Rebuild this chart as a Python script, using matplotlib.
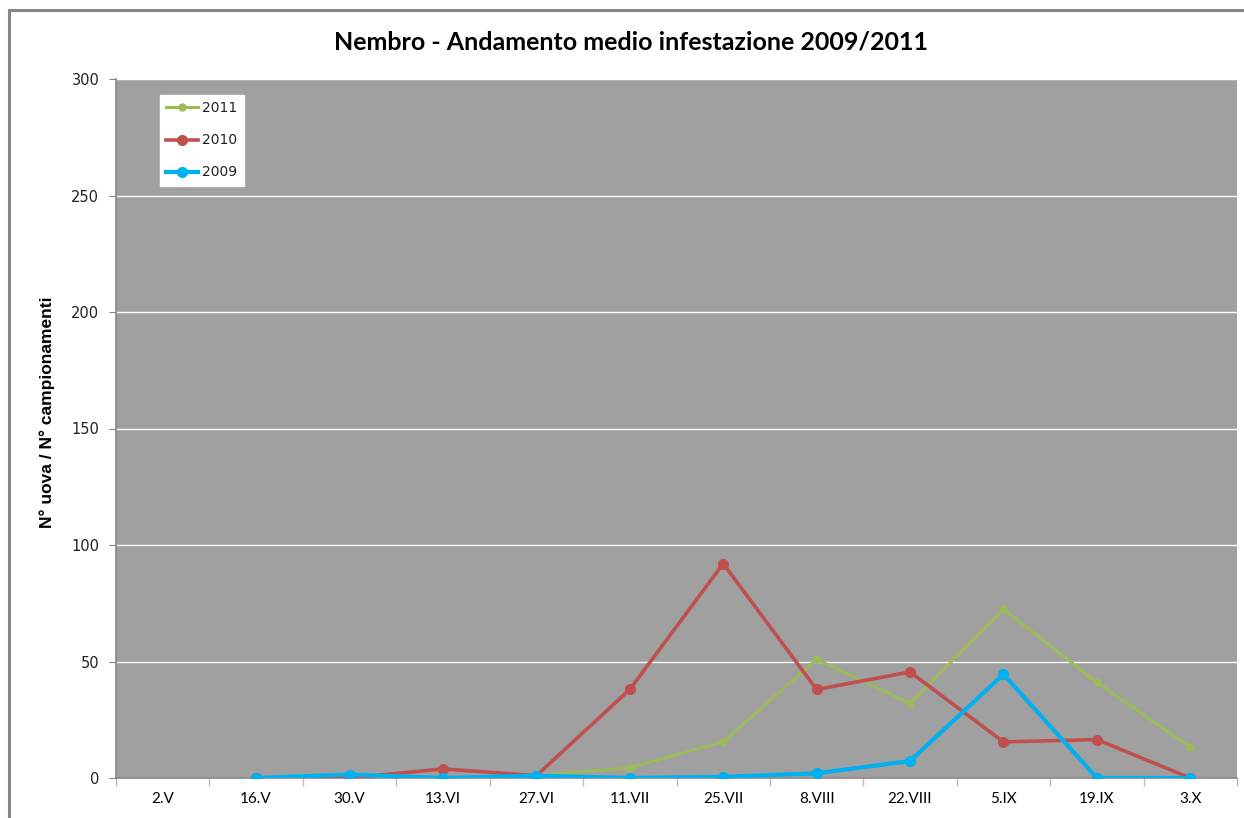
import matplotlib
matplotlib.use("Agg")
import matplotlib.pyplot as plt

# dates of sampling
dates = ["2.V", "16.V", "30.V", "13.VI", "27.VI", "11.VII", "25.VII",
         "8.VIII", "22.VIII", "5.IX", "19.IX", "3.X"]

# mean eggs per sampling (first date has no data)
y2011 = [None, 0, 0, 0, 1, 4.5, 15.5, 51, 32, 72.5, 41, 13.3]
y2010 = [None, 0, 0, 3.9, 1, 38, 92, 38, 45.5, 15.5, 16.5, 0]
y2009 = [None, 0, 1.5, 0, 1, 0, 0.5, 2, 7.3, 44.5, 0, 0]

yticks = [0, 50, 100, 150, 200, 250, 300]

W, H = 1244, 818
fig = plt.figure(figsize=(W / 100, H / 100), dpi=100)
fig.patch.set_facecolor("white")

# outer chart frame (cut at right/bottom like the reference)
fig.add_artist(plt.Line2D([9 / W, 9 / W], [0, 1 - 10 / H], color="#868686", lw=2.2,
                          transform=fig.transFigure))
fig.add_artist(plt.Line2D([9 / W, 1], [1 - 10 / H, 1 - 10 / H], color="#868686", lw=2.2,
                          transform=fig.transFigure))

ax = fig.add_axes([116 / W, 1 - 778 / H, (1237 - 116) / W, (778 - 79) / H])
ax.set_facecolor("#A0A0A0")

x = list(range(len(dates)))

def clean(vals):
    return [float("nan") if v is None else v for v in vals]

ax.plot(x, clean(y2011), color="#9BBB59", lw=2.2, marker="o", ms=5, label="2011", zorder=3)
ax.plot(x, clean(y2010), color="#C0504D", lw=2.6, marker="o", ms=7, label="2010", zorder=4)
ax.plot(x, clean(y2009), color="#00B0F0", lw=3.0, marker="o", ms=7, label="2009", zorder=5)

ax.set_xlim(-0.5, len(dates) - 0.5)
ax.set_ylim(0, 300)
ax.set_yticks(yticks)
ax.set_yticklabels([str(v) for v in yticks], fontsize=10.5, family="DejaVu Sans",
                   color="#222222")
ax.grid(axis="y", color="white", lw=1.0)
ax.set_axisbelow(True)

ax.set_xticks(x)
ax.set_xticklabels(dates, fontsize=11, family="Lato")
ax.set_xticks([i - 0.5 for i in range(len(dates) + 1)], minor=True)
ax.tick_params(axis="x", which="major", length=0, pad=10)
ax.tick_params(axis="x", which="minor", length=6, color="#BBBBBB", width=1)
ax.tick_params(axis="y", length=5, color="#868686", pad=7)

for s in ["top", "right"]:
    ax.spines[s].set_visible(False)
ax.spines["left"].set_color("#868686")
ax.spines["bottom"].set_color("#868686")
ax.spines["left"].set_linewidth(1.2)
ax.spines["bottom"].set_linewidth(1.2)

ax.set_ylabel("N° uova / N° campionamenti", fontsize=12.5, fontweight="bold",
              family="Liberation Sans", va="center")
ax.yaxis.set_label_coords(-0.0616, 0.5236)

fig.text(631 / W, 1 - 42 / H, "Nembro - Andamento medio infestazione 2009/2011",
         ha="center", va="center", fontsize=18, fontweight="bold", family="Lato")

leg = ax.legend(loc="upper left", bbox_to_anchor=(0.039, 0.977), frameon=True,
                fancybox=False, framealpha=1, edgecolor="white",
                handlelength=2.3, handletextpad=0.3, labelspacing=1.3,
                borderpad=0.45, borderaxespad=0,
                prop={"family": "DejaVu Sans", "size": 10})
for t in leg.get_texts():
    t.set_color("#222222")

fig.savefig("out.png", dpi=100, facecolor="white")
